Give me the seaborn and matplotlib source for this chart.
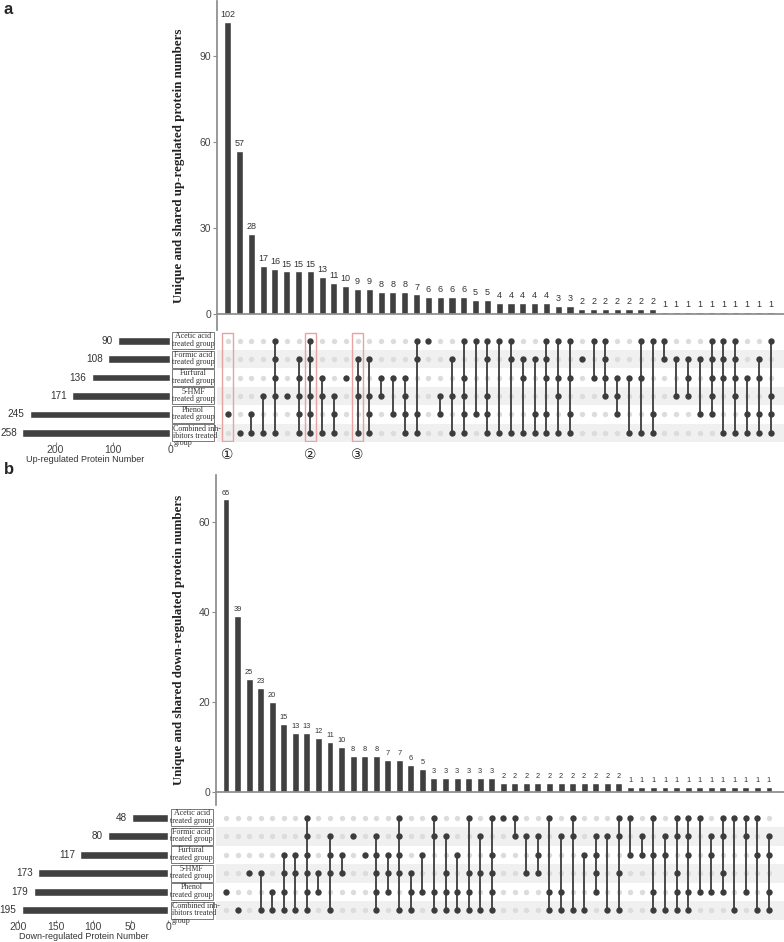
import numpy as np
import pandas as pd
import matplotlib
matplotlib.use("Agg")
import matplotlib.pyplot as plt
import seaborn as sns
from matplotlib.patches import Rectangle

sns.set_theme(style="white")
plt.rcParams["font.family"] = ["Liberation Sans", "DejaVu Sans", "Noto Sans CJK SC"]

# ---------------- data ----------------
set_names = ["Acetic acid\ntreated group", "Formic acid\ntreated group", "Furfural\ntreated group",
             "5-HMF\ntreated group", "Phenol\ntreated group", "Combined inh-\nibitors treated\ngroup"]
set_codes = ["A", "F", "U", "H", "P", "C"]

up_set_sizes = [90, 108, 136, 171, 245, 258]
up_counts = [102, 57, 28, 17, 16, 15, 15, 15, 13, 11, 10, 9, 9, 8, 8, 8, 7, 6, 6, 6, 6, 5, 5,
             4, 4, 4, 4, 4, 3, 3, 2, 2, 2, 2, 2, 2, 2, 1, 1, 1, 1, 1, 1, 1, 1, 1, 1]
up_members = ["P", "C", "PC", "HC", "AFUHC", "H", "FUHPC", "AFUHPC", "UHC", "HPC", "U", "FUHC",
              "FHPC", "UH", "UP", "UHPC", "AFPC", "A", "HP", "FHC", "AUHPC", "AP", "AFHPC",
              "AC", "AFC", "FUC", "FPC", "AFUPC", "AUHC", "AUPC", "F", "AU", "AFUH", "UHP", "UC",
              "AUC", "APC", "AF", "FH", "FUH", "FP", "AFUHP", "AFUC", "AFUHC", "UPC", "FUPC", "AHPC"]

down_set_sizes = [48, 80, 117, 173, 179, 195]
down_counts = [65, 39, 25, 23, 20, 15, 13, 13, 12, 11, 10, 8, 8, 8, 7, 7, 6, 5,
               3, 3, 3, 3, 3, 3, 2, 2, 2, 2, 2, 2, 2, 2, 2, 2, 2,
               1, 1, 1, 1, 1, 1, 1, 1, 1, 1, 1, 1, 1]
down_members = ["P", "C", "H", "HC", "PC", "UHPC", "UHC", "AFUHPC", "HP", "FUHC", "UH", "F", "U",
                "FUHPC", "UHP", "AFUHC", "HPC", "UP", "AFPC", "FHPC", "UPC", "AHPC", "FHC",
                "AUHPC", "A", "AF", "FH", "FUH", "APC", "FPC", "AFC", "UC", "FUHP", "FC", "AFHC",
                "AU", "FU", "AUPC", "FUC", "AFHPC", "AFUPC", "AP", "FUP", "AFHP", "AC", "AFP",
                "AUC", "FUPC"]

up_boxes = [0, 7, 11]
circ_labels = ["\u2460", "\u2461", "\u2462"]

# ---------------- style ----------------
W, H = 784, 942
BAR = "#404040"
DOT_ON = "#3c3c3c"
DOT_OFF = "#dcdcdc"
STRIPE = "#f0f0f0"
AXC = "#8c8c8c"
TXT = "#333333"
SERIF = ["Liberation Serif", "DejaVu Serif"]

fig = plt.figure(figsize=(W / 100, H / 100), dpi=100)


def px_axes(l, t, r, b):
    return fig.add_axes([l / W, 1 - b / H, (r - l) / W, (b - t) / H])


def panel(counts, members, sizes, geo, ylim, yticks, ylabel, xlab, set_xmax, set_ticks,
          count_fs, boxes=None):
    n = len(counts)
    bl, bt, br, bb, mt, mb, setr, xl, xr = geo
    # intersection bars
    ax = px_axes(bl, bt, br, bb)
    sns.barplot(x=list(range(n)), y=counts, color=BAR, saturation=1, width=0.6,
                errorbar=None, ax=ax)
    ax.bar_label(ax.containers[0], padding=2, fontsize=count_fs, color=TXT)
    ax.set_xlim(xl, xr)
    ax.set_ylim(*ylim)
    ax.set_yticks(yticks)
    ax.set_yticklabels([str(v) for v in yticks], fontsize=7.5, color="#444444")
    ax.set_xticks([])
    ax.set_xlabel("")
    for s in ["top", "right"]:
        ax.spines[s].set_visible(False)
    ax.spines["left"].set_color(AXC)
    ax.spines["bottom"].set_color(AXC)
    ax.spines["bottom"].set_position(("data", 0))
    ax.tick_params(axis="y", left=True, length=3, width=0.8, color=AXC, pad=1)
    ax.set_ylabel(ylabel, family=SERIF, fontweight="bold", fontsize=9.4, color="#222222")
    ax.yaxis.set_label_coords(-(bl - 185) / (br - bl), 0.5)
    ax.patch.set_alpha(0)

    # matrix
    axm = px_axes(bl, mt, br, mb)
    rows = []
    for ci, mem in enumerate(members):
        for ri, code in enumerate(set_codes):
            rows.append({"col": ci, "row": ri, "on": code in mem})
    df = pd.DataFrame(rows)
    for ri in [1, 3, 5]:
        axm.axhspan(ri - 0.5, ri + 0.5, color=STRIPE, lw=0, zorder=0)
    sns.scatterplot(data=df[~df["on"]], x="col", y="row", color=DOT_OFF, s=15,
                    linewidth=0, ax=axm, zorder=2)
    on = df[df["on"]]
    seg = on.groupby("col")["row"].agg(["min", "max"]).reset_index()
    seg = seg[seg["min"] != seg["max"]]
    axm.vlines(seg["col"], seg["min"], seg["max"], color=DOT_ON, lw=1.3, zorder=3)
    sns.scatterplot(data=on, x="col", y="row", color=DOT_ON, s=21, linewidth=0,
                    ax=axm, zorder=4)
    axm.set_xlim(xl, xr)
    axm.set_ylim(5.5, -0.5)
    axm.set_axis_off()
    if boxes is not None:
        for k, c in enumerate(boxes):
            axm.add_patch(Rectangle((c - 0.45, -0.42), 0.9, 5.84, fill=False,
                                    edgecolor="#e8a2a2", lw=1.0, zorder=5))
            axm.text(c, 6.2, circ_labels[k], ha="center", va="center", fontsize=10,
                     color="#222222", family=["DejaVu Sans", "Noto Sans CJK SC"])

    # set-size bars
    axs = px_axes(0, mt, setr, mb)
    sns.barplot(x=sizes, y=set_codes, orient="h", color=BAR, saturation=1, width=0.42,
                errorbar=None, ax=axs)
    for ri, v in enumerate(sizes):
        axs.annotate(str(v), xy=(v, ri), xytext=(-4, 0), textcoords="offset points",
                     ha="right", va="center", fontsize=7.2, color=TXT)
    axs.set_xlim(set_xmax, 0)
    axs.set_ylim(5.5, -0.5)
    axs.set_yticks([])
    axs.set_ylabel("")
    axs.set_xticks(set_ticks)
    axs.set_xticklabels([str(v) for v in set_ticks], fontsize=7.5, color="#444444")
    axs.tick_params(axis="x", bottom=True, length=2, width=0.8, color=AXC, pad=0)
    axs.set_xlabel(xlab, fontsize=6.5, color="#333333", labelpad=0)
    for s in ["top", "right", "left", "bottom"]:
        axs.spines[s].set_visible(False)
    axs.patch.set_alpha(0)

    # set name boxes
    axl = px_axes(setr + 1.5, mt, bl - 2, mb)
    axl.set_xlim(0, 1)
    axl.set_ylim(5.5, -0.5)
    axl.set_axis_off()
    for ri, name in enumerate(set_names):
        axl.add_patch(Rectangle((0.02, ri - 0.46), 0.96, 0.92, facecolor="white",
                                edgecolor="#7a7a7a", lw=0.7))
        if ri == 5:
            axl.text(0.04, ri - 0.45, name, ha="left", va="top", fontsize=5.8,
                     family=SERIF, color="#333333", linespacing=0.9,
                     multialignment="left")
        else:
            axl.text(0.5, ri - 0.45, name, ha="center", va="top", fontsize=5.8,
                     family=SERIF, color="#333333", linespacing=0.9)
    return ax


# panel a
panel(up_counts, up_members, up_set_sizes,
      (216.5, 1, 784, 330, 331.5, 442, 170, -0.95, 47.13),
      (-5.4, 109.2), [0, 30, 60, 90],
      "Unique and shared up-regulated protein numbers", "Up-regulated Protein Number",
      297, [200, 100, 0], 6.5, boxes=up_boxes)

# panel b
panel(down_counts, down_members, down_set_sizes,
      (215.5, 475, 784, 805, 808.5, 919.5, 168.3, -0.91, 48.3),
      (-2.96, 70.4), [0, 20, 40, 60],
      "Unique and shared down-regulated protein numbers", "Down-regulated Protein Number",
      224, [200, 150, 100, 50, 0], 5.3)

fig.text(4 / W, 1 - 10 / H, "a", fontsize=12, fontweight="bold", va="center", ha="left")
fig.text(4 / W, 1 - 470 / H, "b", fontsize=12, fontweight="bold", va="center", ha="left")

fig.savefig("out.png", dpi=100)
